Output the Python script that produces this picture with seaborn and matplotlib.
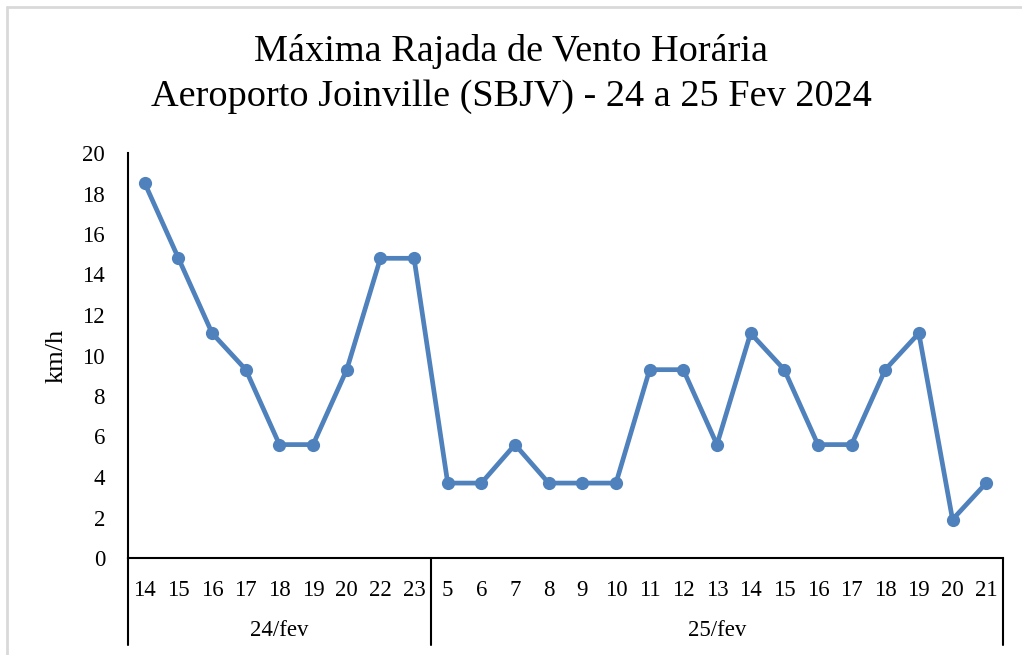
import numpy as np
import pandas as pd
import matplotlib
matplotlib.use("Agg")
import matplotlib.pyplot as plt
from matplotlib.lines import Line2D
import seaborn as sns

# data
hours_24 = ["14", "15", "16", "17", "18", "19", "20", "22", "23"]
hours_25 = ["5", "6", "7", "8", "9", "10", "11", "12", "13", "14", "15",
            "16", "17", "18", "19", "20", "21"]
days = ["24/fev", "25/fev"]
gust = [18.5, 14.8, 11.1, 9.3, 5.6, 5.6, 9.3, 14.8, 14.8,
        3.7, 3.7, 5.6, 3.7, 3.7, 3.7, 9.3, 9.3, 5.6, 11.1, 9.3, 5.6, 5.6, 9.3, 11.1, 1.9, 3.7]

labels = hours_24 + hours_25
df = pd.DataFrame({"pos": np.arange(len(gust)), "gust": gust})

sns.set_style("white")
plt.rcParams["font.family"] = ["Liberation Serif", "DejaVu Serif"]
plt.rcParams["text.color"] = "black"
plt.rcParams["xtick.color"] = "black"
plt.rcParams["ytick.color"] = "black"
plt.rcParams["axes.labelcolor"] = "black"

fig = plt.figure(figsize=(10.22, 6.55), dpi=100)
ax = fig.add_axes([128 / 1022, 1 - 558 / 655, 875 / 1022, 405 / 655])

blue = "#4F81BD"
sns.lineplot(data=df, x="pos", y="gust", ax=ax, color=blue, linewidth=3.4,
             marker="o", markersize=9.5, markeredgewidth=0, markeredgecolor=blue)

ax.set_xlim(-0.5, len(gust) - 0.5)
ax.set_ylim(0, 20)
ax.set_yticks(np.arange(0, 21, 2))
ax.tick_params(axis="y", labelsize=16.5, length=0, pad=16.5)
ax.set_xticks(df["pos"])
ax.set_xticklabels(labels, fontsize=16.5)
ax.tick_params(axis="x", length=0, pad=15.5)
ax.set_xlabel("")
ax.set_ylabel("km/h", fontsize=19)
ax.yaxis.set_label_coords(-60 / 875, 0.5)

for s in ["top", "right"]:
    ax.spines[s].set_visible(False)
for s in ["left", "bottom"]:
    ax.spines[s].set_color("black")
    ax.spines[s].set_linewidth(1.5)

# category group separators below axis
n24 = len(hours_24)
sep_kw = dict(color="black", lw=1.5, clip_on=False, transform=ax.get_xaxis_transform())
for xs in [-0.5, n24 - 0.5, len(gust) - 0.5]:
    ax.add_line(Line2D([xs, xs], [0, -0.215], **sep_kw))
ax.text((n24 - 1) / 2, -0.18, days[0], transform=ax.get_xaxis_transform(),
        ha="center", va="center", fontsize=16.5)
ax.text(n24 + (len(hours_25) - 1) / 2, -0.18, days[1], transform=ax.get_xaxis_transform(),
        ha="center", va="center", fontsize=16.5)

fig.text(0.5, 1 - 74 / 655, "Máxima Rajada de Vento Horária\nAeroporto Joinville (SBJV) - 24 a 25 Fev 2024",
         ha="center", va="center", fontsize=27.5, linespacing=1.38)

# chart-area border
fig.add_artist(Line2D([7 / 1022, 1], [1 - 7 / 655, 1 - 7 / 655], color="#D9D9D9", lw=2))
fig.add_artist(Line2D([7 / 1022, 7 / 1022], [0, 1 - 7 / 655], color="#D9D9D9", lw=2))

fig.savefig("out.png", dpi=100)
